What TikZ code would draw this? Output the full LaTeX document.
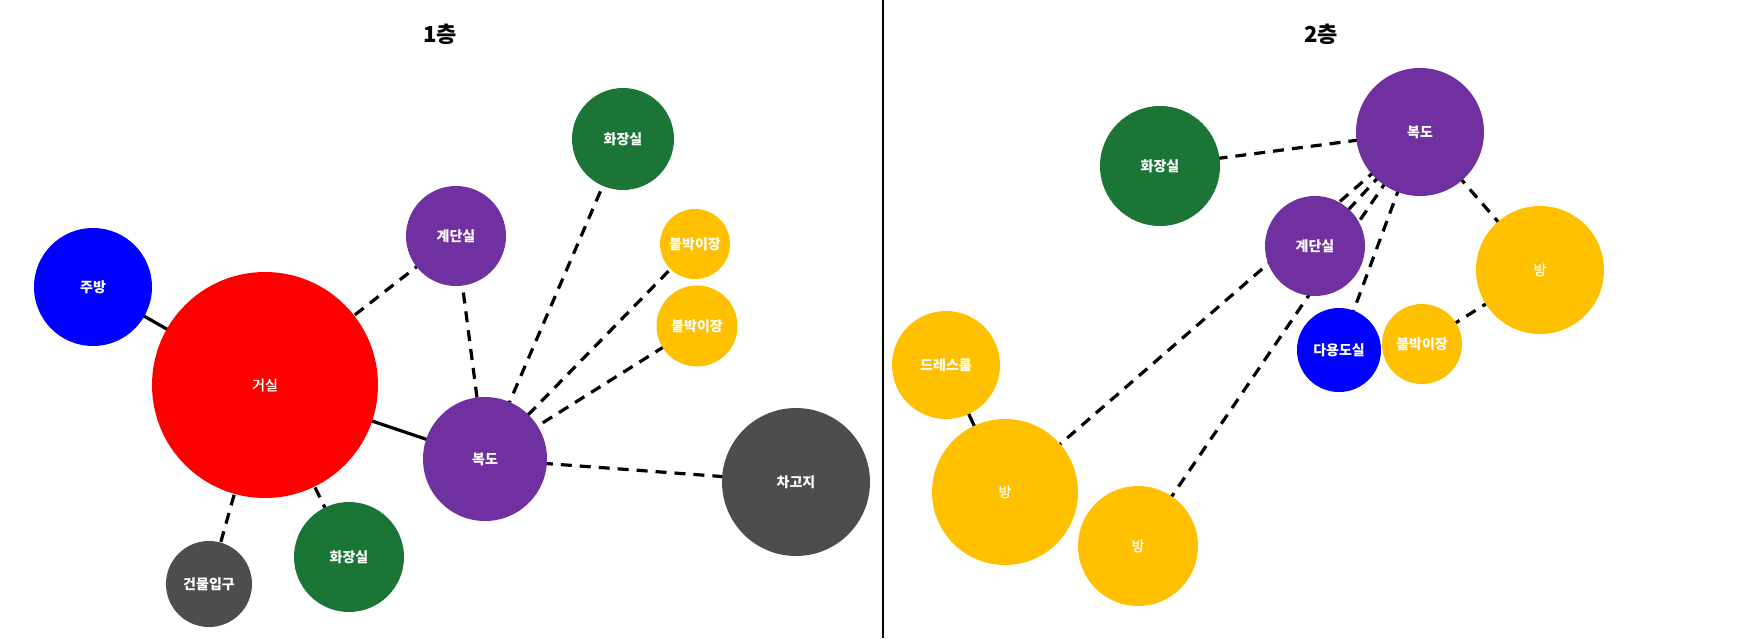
\documentclass[tikz,border=0pt]{standalone}
\usepackage{fontspec}
\newfontfamily\kr{Noto Sans CJK KR}
\newfontfamily\krmid[FakeBold=1.4]{Noto Sans CJK KR}
\usetikzlibrary{backgrounds}

\definecolor{room red}{RGB}{255,0,0}
\definecolor{room blue}{RGB}{0,0,255}
\definecolor{room purple}{RGB}{112,48,160}
\definecolor{room green}{RGB}{27,117,55}
\definecolor{room yellow}{RGB}{255,192,0}
\definecolor{room gray}{RGB}{77,77,77}

\tikzset{
	room/.style = {circle, inner sep = 0pt, text = white, font = \kr\bfseries\fontsize{7}{8}\selectfont},
	thin label/.style = {font = \krmid\fontsize{7}{8}\selectfont},
	solid link/.style = {line width = 1.6pt},
	dashed link/.style = {line width = 1.6pt, dash pattern = on 5.5pt off 4pt},
	floor title/.style = {font = \kr\bfseries\fontsize{11}{13}\selectfont}
}

\begin{document}
\begin{tikzpicture}[x = 0.5pt, y = -0.5pt]
		\useasboundingbox (0,0) rectangle (1763,638);
		
		\draw [line width = 0.75pt] (883,0) -- (883,638);
		
		\node [floor title] (title 1) at (440,34) {1층};
		\node [floor title] (title 2) at (1321,34) {2층};
		
		%1st floor
		\node [room, fill = room blue, minimum size = 59pt] (kitchen) at (93,287) {주방};
		\node [room, thin label, fill = room red, minimum size = 113pt] (living room) at (265,385) {거실};
		\node [room, fill = room purple, minimum size = 50pt] (stairs 1) at (456,236) {계단실};
		\node [room, fill = room green, minimum size = 51pt] (toilet 1a) at (623,139) {화장실};
		\node [room, fill = room yellow, minimum size = 35pt] (closet 1a) at (695,244) {붙박이장};
		\node [room, fill = room yellow, minimum size = 40.5pt] (closet 1b) at (697,326) {붙박이장};
		\node [room, fill = room purple, minimum size = 62pt] (hall 1) at (485,459) {복도};
		\node [room, fill = room gray, minimum size = 74pt] (garage) at (796,482) {차고지};
		\node [room, fill = room gray, minimum size = 43pt] (entrance) at (209,584) {건물입구};
		\node [room, fill = room green, minimum size = 55pt] (toilet 1b) at (349,557) {화장실};
		
		%2nd floor
		\node [room, fill = room green, minimum size = 60pt] (toilet 2) at (1160,166) {화장실};
		\node [room, fill = room purple, minimum size = 64pt] (hall 2) at (1420,132) {복도};
		\node [room, fill = room purple, minimum size = 50pt] (stairs 2) at (1315,246) {계단실};
		\node [room, thin label, fill = room yellow, minimum size = 64pt] (bedroom 2a) at (1540,270) {방};
		\node [room, fill = room blue, minimum size = 42pt] (utility) at (1339,350) {다용도실};
		\node [room, fill = room yellow, minimum size = 40pt] (closet 2) at (1422,344) {붙박이장};
		\node [room, fill = room yellow, minimum size = 54pt] (dressroom) at (946,365) {드레스룸};
		\node [room, thin label, fill = room yellow, minimum size = 73pt] (bedroom 2b) at (1005,492) {방};
		\node [room, thin label, fill = room yellow, minimum size = 60pt] (bedroom 2c) at (1138,546) {방};
		
		%links
		\begin{scope}[on background layer]
			\draw [solid link] (kitchen.center) -- (living room.center);
			\draw [solid link] (living room.center) -- (hall 1.center);
			\draw [dashed link] (living room.center) -- (stairs 1.center);
			\draw [dashed link] (living room.center) -- (entrance.center);
			\draw [dashed link] (living room.center) -- (toilet 1b.center);
			\draw [dashed link] (stairs 1.center) -- (hall 1.center);
			\draw [dashed link] (toilet 1a.center) -- (hall 1.center);
			\draw [dashed link] (closet 1a.center) -- (hall 1.center);
			\draw [dashed link] (closet 1b.center) -- (hall 1.center);
			\draw [dashed link] (hall 1.center) -- (garage.center);
			
			\draw [dashed link] (toilet 2.center) -- (hall 2.center);
			\draw [dashed link] (hall 2.center) -- (bedroom 2a.center);
			\draw [dashed link] (bedroom 2a.center) -- (closet 2.center);
			\draw [dashed link] (hall 2.center) -- (stairs 2.center);
			\draw [dashed link] (hall 2.center) -- (bedroom 2b.center);
			\draw [dashed link] (hall 2.center) -- (bedroom 2c.center);
			\draw [dashed link] (hall 2.center) -- (utility.center);
			\draw [solid link] (dressroom.center) -- (bedroom 2b.center);
		\end{scope}
	\end{tikzpicture}
\end{document}
